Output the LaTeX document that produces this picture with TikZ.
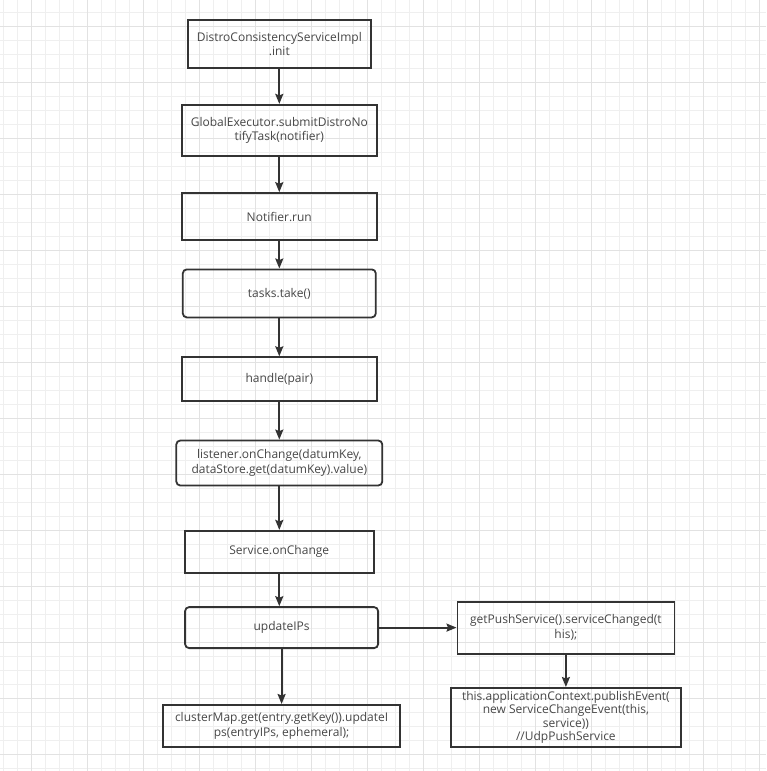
\documentclass[tikz,border=0pt]{standalone}
\usepackage{fontspec}
\setmainfont{Open Sans}
\usetikzlibrary{arrows.meta, positioning}
\definecolor{ink}{HTML}{333333}
\definecolor{minorline}{HTML}{EFEFEF}
\definecolor{majorline}{HTML}{E2E2E2}

\begin{document}
\begin{tikzpicture}[x=1pt, y=-1pt, font=\fontsize{12}{14.5}\selectfont, box/.style={draw=ink, line width=1.8pt, text=ink!90, align=center, inner sep=0pt}, rbox/.style={box, rounded corners=4pt}, arrow/.style={-{Stealth[length=10pt, width=8pt, inset=1.5pt]}, line width=1.8pt, draw=ink}]

\useasboundingbox (0,0) rectangle (766,771);
\fill[white] (0,0) rectangle (766,771);
\foreach \x in {3,17,...,766} \draw[minorline, line width=1pt] (\x,0) -- (\x,771);
\foreach \y in {12.3,26.3,...,771} \draw[minorline, line width=1pt] (0,\y) -- (766,\y);
\foreach \x in {31,87,...,766} \draw[majorline, line width=1pt] (\x,0) -- (\x,771);
\foreach \y in {26.3,82.3,...,771} \draw[majorline, line width=1pt] (0,\y) -- (766,\y);

\node[box, minimum width=183pt, minimum height=48pt] (init) at (279.3,44) {DistroConsistencyServiceImpl\\.init};
\node[box, minimum width=195pt, minimum height=51pt, below=35pt of init] (submit) {GlobalExecutor.submitDistroNo\\tifyTask(notifier)};
\node[box, minimum width=195pt, minimum height=47pt, below=35.5pt of submit] (notifier) {Notifier.run};
\node[rbox, minimum width=193pt, minimum height=48pt, below=27.5pt of notifier] (take) {tasks.take()};
\node[box, minimum width=195pt, minimum height=44pt, below=38pt of take] (handle) {handle(pair)};
\node[rbox, minimum width=206pt, minimum height=45pt, below=37.5pt of handle] (listener) {listener.onChange(datumKey,\\dataStore.get(datumKey).value)};
\node[box, minimum width=189pt, minimum height=42pt, below=43.5pt of listener] (onchange) {Service.onChange};
\node[rbox, minimum width=193pt, minimum height=41pt, below=32.5pt of onchange, xshift=2.3pt] (update) {updateIPs};
\node[box, minimum width=237pt, minimum height=42pt, below=55pt of update] (cluster) {clusterMap.get(entry.getKey()).updateI\\ps(entryIPs, ephemeral);};
\node[box, minimum width=217pt, minimum height=52pt, right=77.5pt of update] (push) {getPushService().serviceChanged(t\\his);};
\node[box, minimum width=230pt, minimum height=59pt, below=32.5pt of push, font=\fontsize{12}{13.5}\selectfont] (publish) {this.applicationContext.publishEvent(\\new ServiceChangeEvent(this,\\service))\\//UdpPushService};

\draw[arrow](init)--(submit);\draw[arrow](submit)--(notifier);\draw[arrow](notifier)--(take);\draw[arrow](take)--(handle);
\draw[arrow](handle)--(listener);\draw[arrow](listener)--(onchange);\draw[arrow](onchange.south)--(update.north -| onchange.south);
\draw[arrow](update)--(cluster);\draw[arrow](update)--(push);\draw[arrow](push)--(publish);

\end{tikzpicture}
\end{document}
